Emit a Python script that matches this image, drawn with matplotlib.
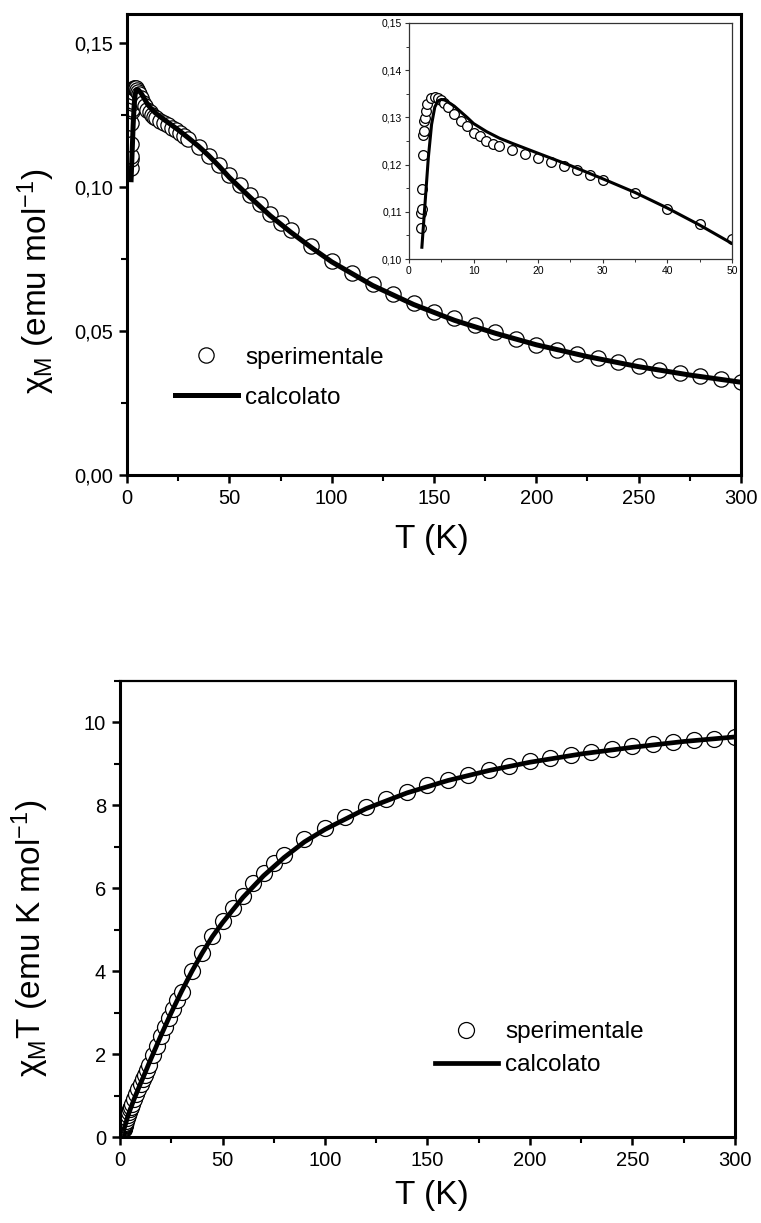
import matplotlib
matplotlib.use("Agg")
import matplotlib.pyplot as plt
from matplotlib.ticker import MultipleLocator, FuncFormatter

plt.rcParams['font.family'] = ['Liberation Sans', 'DejaVu Sans']
plt.rcParams['mathtext.fontset'] = 'custom'
plt.rcParams['mathtext.rm'] = 'Liberation Sans'
plt.rcParams['mathtext.it'] = 'Liberation Sans:italic'
plt.rcParams['mathtext.bf'] = 'Liberation Sans:bold'

# Measured susceptibility (chi_M, emu/mol) vs temperature (K)
T_exp = [1.8, 1.9, 1.95, 2.0, 2.15, 2.25, 2.3, 2.4, 2.45, 2.6, 2.85, 3.45, 4.0, 4.5,
         5.0, 5.5, 6, 7, 8, 9, 10, 11, 12, 13, 14, 16, 18, 20, 22, 24, 26, 28, 30,
         35, 40, 45, 50, 55, 60, 65, 70, 75, 80, 90, 100, 110, 120, 130, 140, 150,
         160, 170, 180, 190, 200, 210, 220, 230, 240, 250, 260, 270, 280, 290, 300]
chi_exp = [0.1065, 0.1097, 0.1106, 0.1148, 0.1221, 0.1263, 0.1272, 0.1292, 0.1298,
           0.1314, 0.1328, 0.1342, 0.1344, 0.1342, 0.1337, 0.1330, 0.1322, 0.1308,
           0.1293, 0.1281, 0.1268, 0.1260, 0.1251, 0.1244, 0.1240, 0.1230, 0.1223,
           0.1215, 0.1206, 0.1197, 0.1188, 0.1178, 0.1168, 0.1139, 0.1107, 0.1075,
           0.1043, 0.1008, 0.0973, 0.0939, 0.0907, 0.0876, 0.0849, 0.0794, 0.0743,
           0.0701, 0.0664, 0.0628, 0.0597, 0.0567, 0.0544, 0.0520, 0.0497, 0.0472,
           0.0452, 0.0435, 0.0420, 0.0405, 0.0391, 0.0377, 0.0364, 0.0353, 0.0342,
           0.0332, 0.0322]

# Measured chi_M*T (emu K/mol) at the same temperatures
chiT_exp = [0.19, 0.21, 0.22, 0.23, 0.26, 0.28, 0.29, 0.31, 0.32, 0.34, 0.38, 0.46,
            0.54, 0.60, 0.67, 0.73, 0.79, 0.92, 1.03, 1.15, 1.27, 1.39, 1.50, 1.62,
            1.74, 1.97, 2.20, 2.43, 2.65, 2.87, 3.09, 3.30, 3.50, 4.00, 4.44, 4.85,
            5.20, 5.52, 5.82, 6.12, 6.36, 6.60, 6.80, 7.18, 7.45, 7.72, 7.96, 8.16,
            8.33, 8.48, 8.62, 8.74, 8.85, 8.96, 9.07, 9.15, 9.22, 9.28, 9.36, 9.42,
            9.47, 9.52, 9.57, 9.60, 9.64]

# Model (fit) curves
T_calc = [2.0, 2.5, 3.0, 3.5, 4.0, 4.5, 5.0, 5.5, 6, 7, 8, 9, 10, 12, 14, 16, 20, 25,
          30, 35, 40, 45, 50, 60, 70, 80, 90, 100, 120, 140, 160, 180, 200, 225, 250,
          275, 300]
chi_calc = [0.1025, 0.1120, 0.1215, 0.1285, 0.1322, 0.1335, 0.1338, 0.1337, 0.1333,
            0.1324, 0.1312, 0.1300, 0.1287, 0.1270, 0.1256, 0.1245, 0.1224, 0.1198,
            0.1170, 0.1141, 0.1108, 0.1072, 0.1033, 0.0965, 0.0900, 0.0843, 0.0790,
            0.0740, 0.0658, 0.0592, 0.0537, 0.0492, 0.0452, 0.0411, 0.0376, 0.0347,
            0.0322]
chiT_calc = [0.20, 0.28, 0.36, 0.45, 0.53, 0.60, 0.67, 0.73, 0.80, 0.93, 1.05, 1.17,
             1.29, 1.52, 1.76, 1.99, 2.45, 3.00, 3.51, 3.99, 4.43, 4.83, 5.17, 5.78,
             6.30, 6.74, 7.12, 7.42, 7.92, 8.30, 8.60, 8.84, 9.04, 9.24, 9.40, 9.54,
             9.65]

legend_labels = ['sperimentale', 'calcolato']


def comma_fmt(fmt):
    return FuncFormatter(lambda v, p: (fmt % v).replace('.', ','))


def style_main(ax, spine_w=(2.2, 2.2, 2.2, 2.2)):
    for side, w in zip(['left', 'bottom', 'right', 'top'], spine_w):
        ax.spines[side].set_linewidth(w)
    ax.tick_params(which='major', direction='out', length=6, width=1.8,
                   labelsize=14.5, top=False, right=False, pad=4)
    ax.tick_params(which='minor', direction='out', length=4, width=1.5,
                   top=False, right=False)


fig = plt.figure(figsize=(7.61, 12.23), dpi=100)

# ---------------- chi_M vs T ----------------
ax1 = fig.add_axes([0.1669, 0.6116, 0.8068, 0.3769])
ax1.plot(T_exp, chi_exp, 'o', ms=11, mfc='white', mec='black', mew=0.9,
         zorder=2, label=legend_labels[0])
ax1.plot(T_calc, chi_calc, '-', color='black', lw=3.6, zorder=3,
         solid_joinstyle='round', label=legend_labels[1])
ax1.set_xlim(0, 300)
ax1.set_ylim(0, 0.16)
ax1.xaxis.set_major_locator(MultipleLocator(50))
ax1.xaxis.set_minor_locator(MultipleLocator(25))
ax1.yaxis.set_major_locator(MultipleLocator(0.05))
ax1.yaxis.set_minor_locator(MultipleLocator(0.025))
ax1.yaxis.set_major_formatter(comma_fmt('%.2f'))
style_main(ax1)
ax1.set_xlabel('T (K)', fontsize=24)
ax1.set_ylabel('χ$_\\mathregular{M}$ (emu mol$^\\mathregular{-1}$)', fontsize=24)
ax1.xaxis.set_label_coords(0.497, -0.106)
ax1.yaxis.set_label_coords(-0.114, 0.42)
ax1.legend(loc='upper left', bbox_to_anchor=(0.078, 0.278), frameon=False,
           fontsize=17.5, handlelength=2.6, handletextpad=0.3, labelspacing=0.74,
           borderpad=0, borderaxespad=0)

# inset: low temperature region
axi = fig.add_axes([0.5374, 0.7882, 0.4244, 0.193])
axi.plot(T_exp, chi_exp, 'o', ms=7, mfc='white', mec='black', mew=0.9, zorder=2)
axi.plot(T_calc, chi_calc, '-', color='black', lw=2.2, zorder=3,
         solid_joinstyle='round')
axi.set_xlim(0, 50)
axi.set_ylim(0.10, 0.15)
axi.xaxis.set_major_locator(MultipleLocator(10))
axi.xaxis.set_minor_locator(MultipleLocator(5))
axi.yaxis.set_major_locator(MultipleLocator(0.01))
axi.yaxis.set_minor_locator(MultipleLocator(0.005))
axi.yaxis.set_major_formatter(comma_fmt('%.2f'))
for s in axi.spines.values():
    s.set_linewidth(0.9)
    s.set_color('#333333')
axi.tick_params(which='major', direction='out', length=3, width=0.8,
                labelsize=7.5, pad=2, color='#333333')
axi.tick_params(which='minor', direction='out', length=2, width=0.7,
                color='#333333')

# ---------------- chi_M T vs T ----------------
ax2 = fig.add_axes([0.1577, 0.0703, 0.8081, 0.3729])
ax2.plot(T_exp, chiT_exp, 'o', ms=11.5, mfc='white', mec='black', mew=0.9,
         zorder=2, label=legend_labels[0])
ax2.plot(T_calc, chiT_calc, '-', color='black', lw=3.4, zorder=3,
         solid_joinstyle='round', label=legend_labels[1])
ax2.set_xlim(0, 300)
ax2.set_ylim(0, 11)
ax2.xaxis.set_major_locator(MultipleLocator(50))
ax2.xaxis.set_minor_locator(MultipleLocator(25))
ax2.yaxis.set_major_locator(MultipleLocator(2))
ax2.yaxis.set_minor_locator(MultipleLocator(1))
style_main(ax2, spine_w=(2.2, 2.2, 2.2, 1.6))
ax2.set_xlabel('T (K)', fontsize=24)
ax2.set_ylabel('χ$_\\mathregular{M}$T (emu K mol$^\\mathregular{-1}$)', fontsize=24)
ax2.xaxis.set_label_coords(0.507, -0.094)
ax2.yaxis.set_label_coords(-0.112, 0.436)
ax2.legend(loc='upper left', bbox_to_anchor=(0.512, 0.254), frameon=False,
           fontsize=17.5, handlelength=2.6, handletextpad=0.3, labelspacing=0.45,
           borderpad=0, borderaxespad=0)

fig.savefig('out.png', dpi=100)
